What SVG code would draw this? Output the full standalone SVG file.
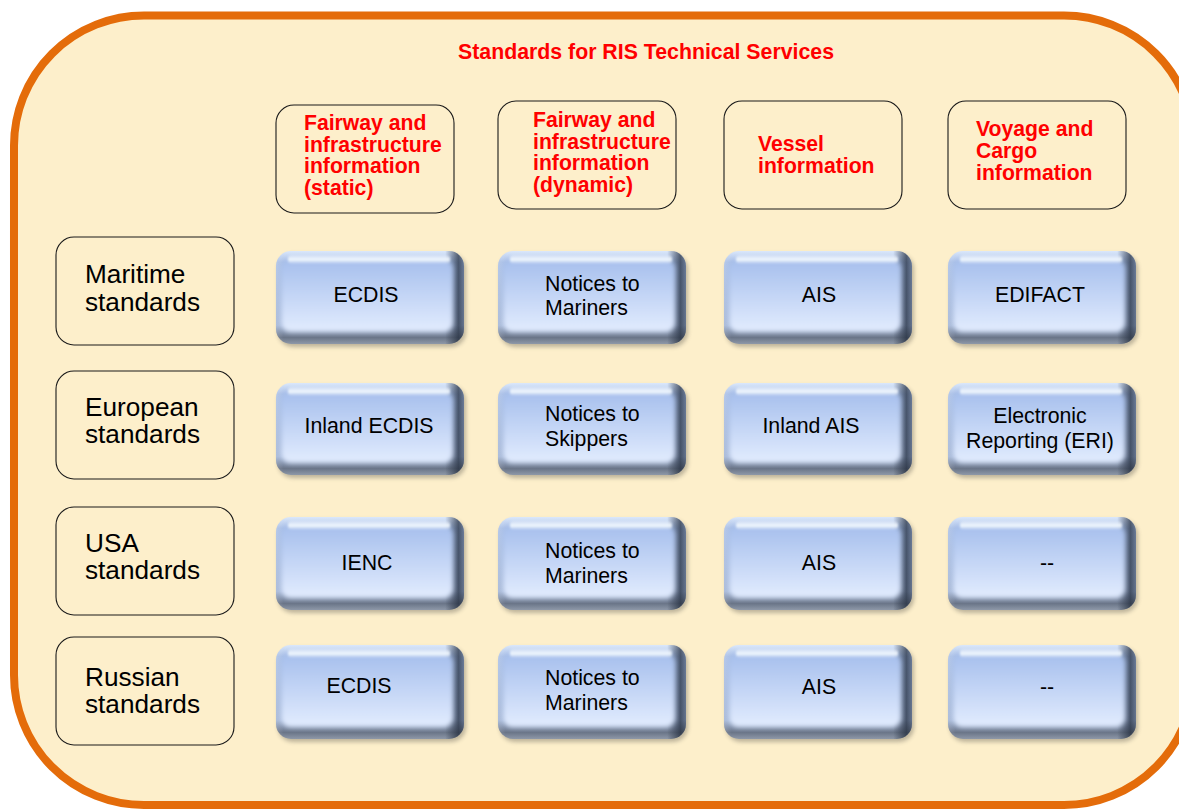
<svg xmlns="http://www.w3.org/2000/svg" width="1179" height="809" viewBox="0 0 1179 809">
<defs>
<linearGradient id="gBaseV" x1="0" y1="0" x2="0" y2="1">
<stop offset="0" stop-color="#dbe8fb"/>
<stop offset="0.12" stop-color="#a9bfe6"/>
<stop offset="0.8" stop-color="#9fb2d4"/>
<stop offset="0.93" stop-color="#6a7588"/>
<stop offset="1" stop-color="#8e98a8"/>
</linearGradient>
<linearGradient id="gBaseH" x1="0" y1="0" x2="1" y2="0">
<stop offset="0" stop-color="#ffffff" stop-opacity="0.15"/>
<stop offset="0.04" stop-color="#ffffff" stop-opacity="0"/>
<stop offset="0.9" stop-color="#1e2838" stop-opacity="0"/>
<stop offset="0.97" stop-color="#1e2838" stop-opacity="0.7"/>
<stop offset="1" stop-color="#1e2838" stop-opacity="0.45"/>
</linearGradient>
<linearGradient id="gFace" x1="0" y1="0" x2="0" y2="1">
<stop offset="0" stop-color="#a6bfed"/>
<stop offset="1" stop-color="#e2ecfe"/>
</linearGradient>
<linearGradient id="gHl" x1="0" y1="0" x2="0" y2="1">
<stop offset="0" stop-color="#ffffff" stop-opacity="0.2"/>
<stop offset="0.5" stop-color="#f4fbff" stop-opacity="0.95"/>
<stop offset="1" stop-color="#ffffff" stop-opacity="0"/>
</linearGradient>
<filter id="fBlur" x="-10%" y="-10%" width="120%" height="120%">
<feGaussianBlur stdDeviation="2.5"/>
</filter>
<filter id="fSh" x="-10%" y="-10%" width="125%" height="130%">
<feGaussianBlur stdDeviation="2"/>
</filter>
<filter id="fHl" x="-10%" y="-50%" width="120%" height="200%">
<feGaussianBlur stdDeviation="1"/>
</filter>
</defs>
<style>
.frame{fill:#fdefcb;stroke:#e46c0a;stroke-width:8}
.hdr,.lbl{fill:#fdefcb;stroke:#1a1a1a;stroke-width:1.1}
.htxt{font-family:"Liberation Sans",Arial,sans-serif;font-weight:bold;font-size:21.2px;fill:#ff0000}
.title{font-family:"Liberation Sans",Arial,sans-serif;font-weight:bold;font-size:21.3px;fill:#ff0000}
.ltxt{font-family:"Liberation Sans",Arial,sans-serif;font-size:26.2px;fill:#000}
.btxt{font-family:"Liberation Sans",Arial,sans-serif;font-size:21.3px;fill:#000}
.sh{fill:#6e6a5e;opacity:0.45;filter:url(#fSh)}
.base{fill:url(#gBaseV)}
.edge{fill:url(#gBaseH)}
.face{fill:url(#gFace);filter:url(#fBlur)}
.hl{fill:url(#gHl);filter:url(#fHl)}
</style>
<rect class="frame" x="14" y="15.5" width="1180" height="789.5" rx="130" ry="130"/>
<text class="title" x="646" y="59" text-anchor="middle">Standards for RIS Technical Services</text>

<g id="hdr-static">
<rect class="hdr" x="276" y="105" width="178" height="108" rx="18"/>
<text class="htxt" x="304" y="130">Fairway and</text>
<text class="htxt" x="304" y="152">infrastructure</text>
<text class="htxt" x="304" y="173">information</text>
<text class="htxt" x="304" y="195">(static)</text>
</g>
<g id="hdr-dynamic">
<rect class="hdr" x="498" y="101" width="178" height="108" rx="18"/>
<text class="htxt" x="533" y="127">Fairway and</text>
<text class="htxt" x="533" y="149">infrastructure</text>
<text class="htxt" x="533" y="170">information</text>
<text class="htxt" x="533" y="192">(dynamic)</text>
</g>
<g id="hdr-vessel">
<rect class="hdr" x="724" y="101" width="178" height="108" rx="18"/>
<text class="htxt" x="758" y="151">Vessel</text>
<text class="htxt" x="758" y="173">information</text>
</g>
<g id="hdr-voyage">
<rect class="hdr" x="948" y="101" width="178" height="108" rx="18"/>
<text class="htxt" x="976" y="136">Voyage and</text>
<text class="htxt" x="976" y="158">Cargo</text>
<text class="htxt" x="976" y="180">information</text>
</g>

<g id="row-maritime">
<rect class="lbl" x="56" y="237" width="178" height="108" rx="18"/>
<text class="ltxt" x="85" y="283">Maritime</text>
<text class="ltxt" x="85" y="311">standards</text>
</g>
<g id="row-european">
<rect class="lbl" x="56" y="371" width="178" height="108" rx="18"/>
<text class="ltxt" x="85" y="416">European</text>
<text class="ltxt" x="85" y="443">standards</text>
</g>
<g id="row-usa">
<rect class="lbl" x="56" y="507" width="178" height="108" rx="18"/>
<text class="ltxt" x="85" y="552">USA</text>
<text class="ltxt" x="85" y="579">standards</text>
</g>
<g id="row-russian">
<rect class="lbl" x="56" y="637" width="178" height="108" rx="18"/>
<text class="ltxt" x="85" y="686">Russian</text>
<text class="ltxt" x="85" y="713">standards</text>
</g>

<g id="maritime-static" transform="translate(276,251)">
<rect class="sh" x="2" y="3" width="188" height="93" rx="15"/>
<rect class="base" width="188" height="93" rx="15"/>
<rect class="edge" width="188" height="93" rx="15"/>
<rect class="face" x="5" y="9" width="172" height="72" rx="9"/>
<rect class="hl" x="12" y="4" width="162" height="9" rx="4"/>
<text class="btxt" x="90" y="51" text-anchor="middle">ECDIS</text>
</g>
<g id="maritime-dynamic" transform="translate(498,251)">
<rect class="sh" x="2" y="3" width="188" height="93" rx="15"/>
<rect class="base" width="188" height="93" rx="15"/>
<rect class="edge" width="188" height="93" rx="15"/>
<rect class="face" x="5" y="9" width="172" height="72" rx="9"/>
<rect class="hl" x="12" y="4" width="162" height="9" rx="4"/>
<text class="btxt" x="47" y="40">Notices to</text>
<text class="btxt" x="47" y="64">Mariners</text>
</g>
<g id="maritime-vessel" transform="translate(724,251)">
<rect class="sh" x="2" y="3" width="188" height="93" rx="15"/>
<rect class="base" width="188" height="93" rx="15"/>
<rect class="edge" width="188" height="93" rx="15"/>
<rect class="face" x="5" y="9" width="172" height="72" rx="9"/>
<rect class="hl" x="12" y="4" width="162" height="9" rx="4"/>
<text class="btxt" x="95" y="51" text-anchor="middle">AIS</text>
</g>
<g id="maritime-voyage" transform="translate(948,251)">
<rect class="sh" x="2" y="3" width="188" height="93" rx="15"/>
<rect class="base" width="188" height="93" rx="15"/>
<rect class="edge" width="188" height="93" rx="15"/>
<rect class="face" x="5" y="9" width="172" height="72" rx="9"/>
<rect class="hl" x="12" y="4" width="162" height="9" rx="4"/>
<text class="btxt" x="92" y="51" text-anchor="middle">EDIFACT</text>
</g>

<g id="european-static" transform="translate(276,383)">
<rect class="sh" x="2" y="3" width="188" height="92" rx="15"/>
<rect class="base" width="188" height="92" rx="15"/>
<rect class="edge" width="188" height="92" rx="15"/>
<rect class="face" x="5" y="9" width="172" height="71" rx="9"/>
<rect class="hl" x="12" y="4" width="162" height="9" rx="4"/>
<text class="btxt" x="93" y="50" text-anchor="middle">Inland ECDIS</text>
</g>
<g id="european-dynamic" transform="translate(498,383)">
<rect class="sh" x="2" y="3" width="188" height="92" rx="15"/>
<rect class="base" width="188" height="92" rx="15"/>
<rect class="edge" width="188" height="92" rx="15"/>
<rect class="face" x="5" y="9" width="172" height="71" rx="9"/>
<rect class="hl" x="12" y="4" width="162" height="9" rx="4"/>
<text class="btxt" x="47" y="38">Notices to</text>
<text class="btxt" x="47" y="63">Skippers</text>
</g>
<g id="european-vessel" transform="translate(724,383)">
<rect class="sh" x="2" y="3" width="188" height="92" rx="15"/>
<rect class="base" width="188" height="92" rx="15"/>
<rect class="edge" width="188" height="92" rx="15"/>
<rect class="face" x="5" y="9" width="172" height="71" rx="9"/>
<rect class="hl" x="12" y="4" width="162" height="9" rx="4"/>
<text class="btxt" x="87" y="50" text-anchor="middle">Inland AIS</text>
</g>
<g id="european-voyage" transform="translate(948,383)">
<rect class="sh" x="2" y="3" width="188" height="92" rx="15"/>
<rect class="base" width="188" height="92" rx="15"/>
<rect class="edge" width="188" height="92" rx="15"/>
<rect class="face" x="5" y="9" width="172" height="71" rx="9"/>
<rect class="hl" x="12" y="4" width="162" height="9" rx="4"/>
<text class="btxt" x="92" y="40" text-anchor="middle">Electronic</text>
<text class="btxt" x="92" y="65" text-anchor="middle">Reporting (ERI)</text>
</g>

<g id="usa-static" transform="translate(276,517)">
<rect class="sh" x="2" y="3" width="188" height="93" rx="15"/>
<rect class="base" width="188" height="93" rx="15"/>
<rect class="edge" width="188" height="93" rx="15"/>
<rect class="face" x="5" y="9" width="172" height="72" rx="9"/>
<rect class="hl" x="12" y="4" width="162" height="9" rx="4"/>
<text class="btxt" x="91" y="53" text-anchor="middle">IENC</text>
</g>
<g id="usa-dynamic" transform="translate(498,517)">
<rect class="sh" x="2" y="3" width="188" height="93" rx="15"/>
<rect class="base" width="188" height="93" rx="15"/>
<rect class="edge" width="188" height="93" rx="15"/>
<rect class="face" x="5" y="9" width="172" height="72" rx="9"/>
<rect class="hl" x="12" y="4" width="162" height="9" rx="4"/>
<text class="btxt" x="47" y="41">Notices to</text>
<text class="btxt" x="47" y="66">Mariners</text>
</g>
<g id="usa-vessel" transform="translate(724,517)">
<rect class="sh" x="2" y="3" width="188" height="93" rx="15"/>
<rect class="base" width="188" height="93" rx="15"/>
<rect class="edge" width="188" height="93" rx="15"/>
<rect class="face" x="5" y="9" width="172" height="72" rx="9"/>
<rect class="hl" x="12" y="4" width="162" height="9" rx="4"/>
<text class="btxt" x="95" y="53" text-anchor="middle">AIS</text>
</g>
<g id="usa-voyage" transform="translate(948,517)">
<rect class="sh" x="2" y="3" width="188" height="93" rx="15"/>
<rect class="base" width="188" height="93" rx="15"/>
<rect class="edge" width="188" height="93" rx="15"/>
<rect class="face" x="5" y="9" width="172" height="72" rx="9"/>
<rect class="hl" x="12" y="4" width="162" height="9" rx="4"/>
<text class="btxt" x="99" y="53" text-anchor="middle">--</text>
</g>

<g id="russian-static" transform="translate(276,645)">
<rect class="sh" x="2" y="3" width="188" height="94" rx="15"/>
<rect class="base" width="188" height="94" rx="15"/>
<rect class="edge" width="188" height="94" rx="15"/>
<rect class="face" x="5" y="9" width="172" height="73" rx="9"/>
<rect class="hl" x="12" y="4" width="162" height="9" rx="4"/>
<text class="btxt" x="83" y="48" text-anchor="middle">ECDIS</text>
</g>
<g id="russian-dynamic" transform="translate(498,645)">
<rect class="sh" x="2" y="3" width="188" height="94" rx="15"/>
<rect class="base" width="188" height="94" rx="15"/>
<rect class="edge" width="188" height="94" rx="15"/>
<rect class="face" x="5" y="9" width="172" height="73" rx="9"/>
<rect class="hl" x="12" y="4" width="162" height="9" rx="4"/>
<text class="btxt" x="47" y="40">Notices to</text>
<text class="btxt" x="47" y="65">Mariners</text>
</g>
<g id="russian-vessel" transform="translate(724,645)">
<rect class="sh" x="2" y="3" width="188" height="94" rx="15"/>
<rect class="base" width="188" height="94" rx="15"/>
<rect class="edge" width="188" height="94" rx="15"/>
<rect class="face" x="5" y="9" width="172" height="73" rx="9"/>
<rect class="hl" x="12" y="4" width="162" height="9" rx="4"/>
<text class="btxt" x="95" y="49" text-anchor="middle">AIS</text>
</g>
<g id="russian-voyage" transform="translate(948,645)">
<rect class="sh" x="2" y="3" width="188" height="94" rx="15"/>
<rect class="base" width="188" height="94" rx="15"/>
<rect class="edge" width="188" height="94" rx="15"/>
<rect class="face" x="5" y="9" width="172" height="73" rx="9"/>
<rect class="hl" x="12" y="4" width="162" height="9" rx="4"/>
<text class="btxt" x="99" y="49" text-anchor="middle">--</text>
</g>
</svg>
